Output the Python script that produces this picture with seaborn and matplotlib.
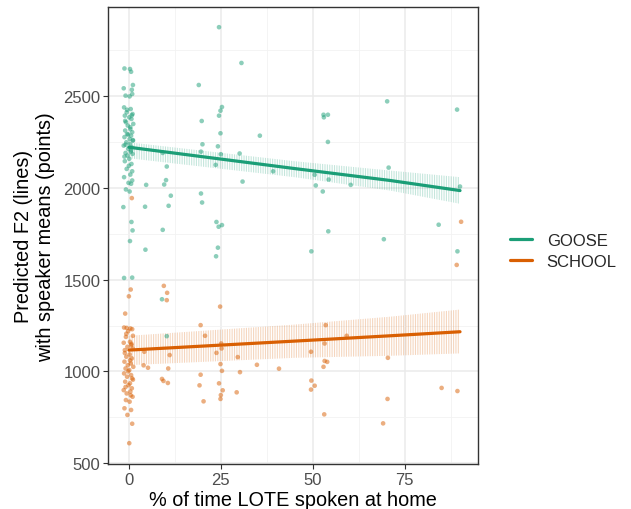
import matplotlib
matplotlib.use("Agg")
import matplotlib.pyplot as plt
from matplotlib.lines import Line2D
import seaborn as sns
import pandas as pd

# speaker means, GOOSE
goose_x = [-1.2, 0.3, 0.6, 1.1, -1.4, 0.8, -0.9, 0.2, 0.9, -1.3, 0.5, -0.6, 1.0, -1.1, 0.1,
           0.7, -0.8, 1.2, -0.3, 0.4, -1.0, 0.9, -0.5, 0.6, -1.2, 0.2, 1.1, -0.7, 0.3, -1.4,
           0.8, -0.2, 0.5, -0.9, 1.0, -0.4, 0.1, -1.1, 0.7, -0.6, 0.4, -1.3, 0.9, -0.1, 0.6,
           -0.8, 0.2, -1.5, 0.7, 1.0, 0.3, -1.3, 0.9,
           -0.5, 0.8, -1.0, 0.4, -0.2, 1.1, -0.9, 0.6, -1.2, 0.0, 0.9,
           24.5, 30.6, 19.0, 25.3, 24.9, 24.5, 19.8, 24.9, 35.6, 20.0, 24.2, 19.6, 25.0, 30.1,
           9.2, 23.6, 10.3, 39.2, 30.9, 4.7, 10.1, 9.6, 11.4, 4.4, 10.8, 19.6, 19.9, 23.8,
           24.4, 25.3, 9.2, 24.2, 4.5, 23.7, 9.0, 10.3,
           70.2, 89.2, 52.9, 54.1, 53.0, 54.1, 70.6, 50.5, 54.3, 50.8, 52.7, 60.3, 90.0, 84.2,
           54.2, 69.3, 49.6, 89.3]
goose_y = [2650, 2647, 2632, 2560, 2542, 2534, 2502, 2498, 2511, 2438, 2429, 2411, 2402, 2393, 2384,
           2375, 2357, 2348, 2339, 2330, 2312, 2303, 2293, 2284, 2276, 2266, 2257, 2248, 2239, 2230,
           2221, 2212, 2197, 2190, 2185, 2176, 2158, 2145, 2130, 2103, 2072, 2058, 2040, 2027, 2022,
           1991, 1980, 1895, 1814, 1768, 1710, 1509, 1511,
           2425, 2395, 2365, 2320, 2290, 2260, 2235, 2205, 2170, 2120, 2090,
           2875, 2680, 2560, 2440, 2420, 2393, 2364, 2297, 2284, 2237, 2226, 2197, 2183, 2187,
           2190, 2125, 2116, 2090, 2034, 2016, 2042, 2018, 1957, 1897, 1902, 1969, 1920, 1814,
           1788, 1797, 1771, 1674, 1663, 1627, 1393, 1192,
           2471, 2426, 2398, 2398, 2384, 2250, 2110, 2071, 2045, 2013, 1980, 2016, 2007, 1799,
           1763, 1720, 1654, 1654]

# speaker means, SCHOOL
school_x = [0.5, 0.0, -1.0, -1.3, 0.4, -0.6, 0.9, -0.2, 1.1, -0.8, 0.3, -1.4, 0.7, -0.4, 1.0,
            -1.1, 0.2, -0.7, 0.8, -1.2, 0.5, -0.3, 1.2, -0.9, 0.1, -1.3, 0.6, -0.5, 0.9, -1.0,
            0.3, -0.1, 0.8, -1.4, 0.4, -0.6, 1.0, -0.8, 0.2, -1.2, 0.6, -0.4, 0.9, 0.1,
            -0.7, 0.7, -1.1, 0.3, -0.2, 1.1, -0.9, 0.5, 0.8,
            9.5, 10.4, 10.3, 24.8, 19.5, 20.7, 25.1, 25.2, 23.8, 11.1, 4.2, 4.0, 5.2, 10.7,
            24.9, 25.3, 29.6, 34.8, 40.8, 30.2, 19.5, 9.0, 9.4, 10.6, 19.2, 24.5, 25.5, 25.0,
            24.9, 29.3, 20.3,
            53.5, 53.2, 59.2, 49.5, 70.4, 53.2, 53.9, 52.9, 49.6, 50.5, 49.5, 85.0, 89.3, 70.3,
            53.1, 69.1, 89.1, 90.3]
school_y = [1446, 1409, 1315, 1239, 1234, 1237, 1230, 1219, 1194, 1188, 1161, 1156, 1143, 1134, 1125,
            1116, 1092, 1080, 1071, 1053, 1043, 1034, 1025, 1016, 1007, 989, 980, 971, 962, 944,
            935, 925, 908, 898, 890, 880, 862, 844, 835, 799, 790, 763, 715, 609,
            1205, 1150, 1100, 1060, 1000, 955, 915, 870, 1944,
            1466, 1428, 1388, 1353, 1252, 1194, 1152, 1125, 1101, 1089, 1107, 1033, 1020, 1016,
            1040, 1003, 1078, 1036, 1015, 996, 982, 959, 948, 937, 924, 935, 897, 871,
            850, 886, 837,
            1252, 1152, 1194, 1107, 1074, 1057, 1052, 1025, 950, 922, 901, 910, 893, 850,
            766, 717, 1580, 1815]

# model predictions with interval
pred_x = [0, 45, 71, 90]
goose_fit = [2221, 2105, 2040, 1985]
goose_lo = [2161, 2058, 1985, 1913]
goose_hi = [2248, 2145, 2094, 2058]
school_fit = [1116, 1165, 1194, 1216]
school_lo = [1034, 1074, 1085, 1098]
school_hi = [1194, 1255, 1298, 1337]

vowels = ["GOOSE", "SCHOOL"]
colors = {"GOOSE": "#1b9e77", "SCHOOL": "#d95f02"}

points = pd.DataFrame({
    "lote": goose_x + school_x,
    "f2": goose_y + school_y,
    "vowel": ["GOOSE"] * len(goose_x) + ["SCHOOL"] * len(school_x),
})
preds = pd.DataFrame({
    "lote": pred_x * 2,
    "fit": goose_fit + school_fit,
    "lo": goose_lo + school_lo,
    "hi": goose_hi + school_hi,
    "vowel": ["GOOSE"] * len(pred_x) + ["SCHOOL"] * len(pred_x),
})

sns.set_theme(style="whitegrid")
plt.rcParams["font.family"] = ["Liberation Sans", "DejaVu Sans"]
plt.rcParams["hatch.linewidth"] = 0.8

fig, ax = plt.subplots(figsize=(6.31, 5.10), dpi=100)
fig.subplots_adjust(left=0.171, right=0.757, top=0.984, bottom=0.088)

# hatched confidence bands
for v in vowels:
    d = preds[preds.vowel == v]
    ax.fill_between(d.lote, d.lo, d.hi, facecolor="none", edgecolor=colors[v],
                    hatch="|||||||", linewidth=0, alpha=0.25, zorder=1)

sns.scatterplot(data=points, x="lote", y="f2", hue="vowel", palette=colors, ax=ax,
                s=11, alpha=0.5, linewidth=0, legend=False, zorder=2)
sns.lineplot(data=preds, x="lote", y="fit", hue="vowel", palette=colors, ax=ax,
             linewidth=2.3, legend=False, zorder=3)

ax.set_xlim(-5.7, 94.8)
ax.set_ylim(495, 2984)
ax.set_xticks([0, 25, 50, 75])
ax.set_yticks([500, 1000, 1500, 2000, 2500])
ax.set_xticks([12.5, 37.5, 62.5, 87.5], minor=True)
ax.set_yticks([750, 1250, 1750, 2250, 2750], minor=True)

ax.grid(which="major", color="#ebebeb", linewidth=1.1)
ax.grid(which="minor", color="#f2f2f2", linewidth=0.6)
ax.set_axisbelow(True)
for sp in ax.spines.values():
    sp.set_color("#333333")
    sp.set_linewidth(1.0)
ax.tick_params(which="major", direction="out", length=3.5, width=0.8, color="#333333",
               labelsize=12, labelcolor="#4d4d4d", bottom=True, left=True, pad=2)
ax.tick_params(which="minor", length=0)

ax.set_xlabel("% of time LOTE spoken at home", fontsize=14.3, color="black", labelpad=2)
ax.set_ylabel("Predicted F2 (lines)\nwith speaker means (points)", fontsize=14.3,
              color="black", labelpad=6)

handles = [Line2D([0], [0], color=colors[v], linewidth=2.3) for v in vowels]
ax.legend(handles, vowels, loc="center left", bbox_to_anchor=(495 / 631, 0.506),
          bbox_transform=fig.transFigure, frameon=False, fontsize=12,
          handlelength=1.3, handletextpad=0.9, labelspacing=0.4)

fig.savefig("out.png", dpi=100)
